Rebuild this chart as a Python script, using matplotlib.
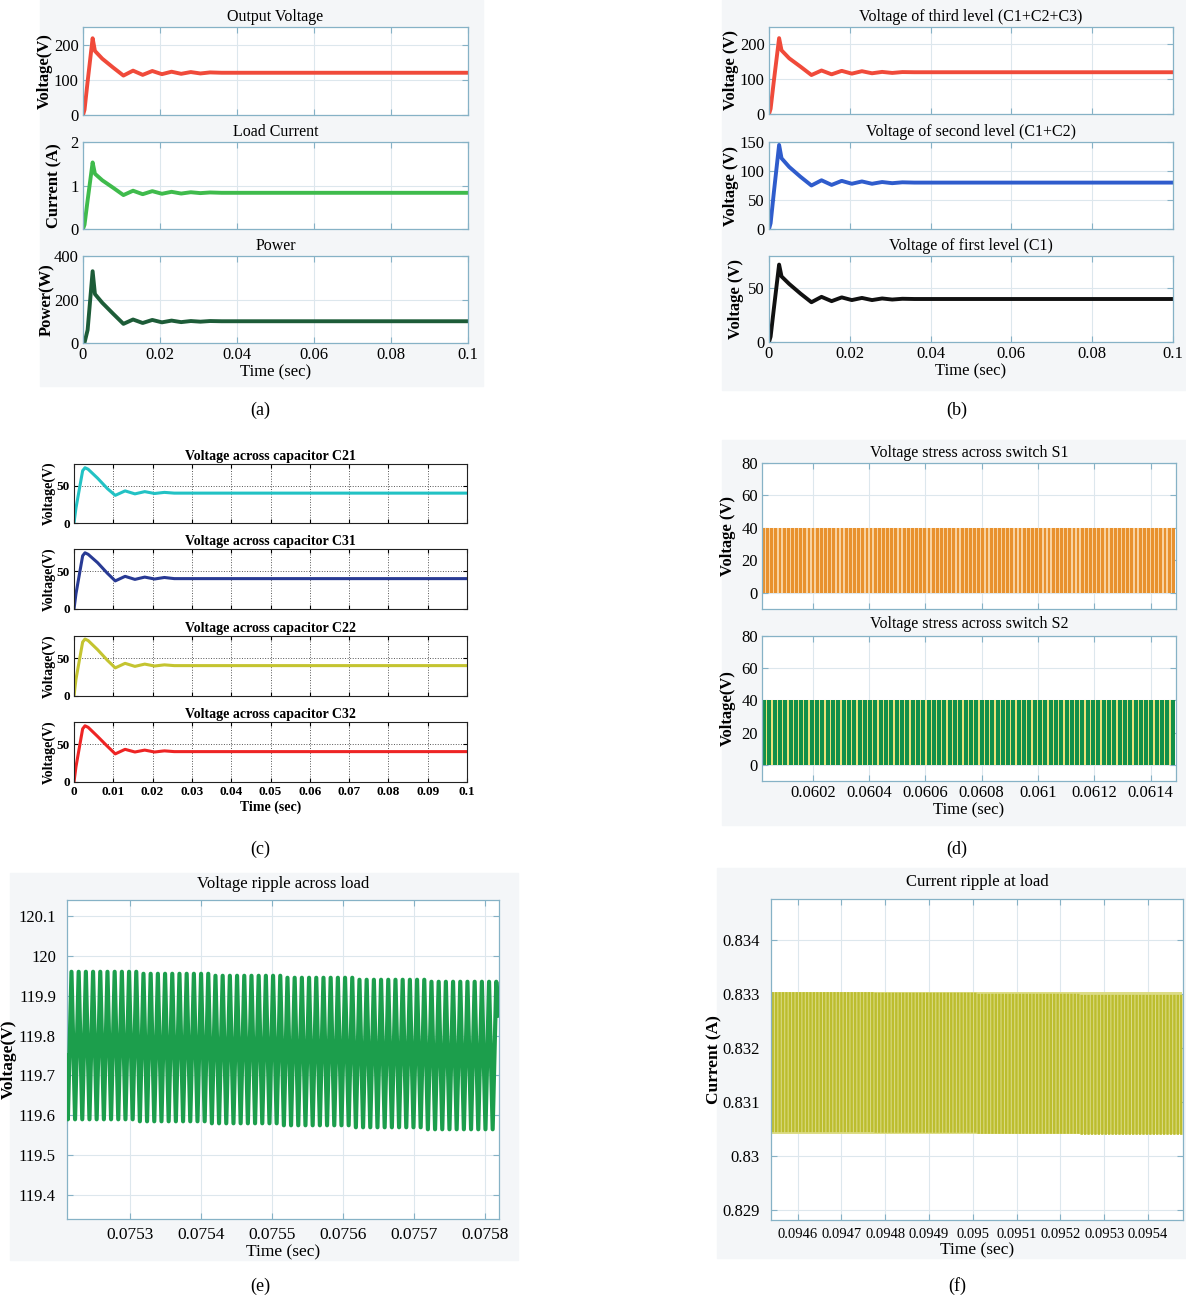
import numpy as np
import matplotlib.pyplot as plt
from matplotlib.patches import Rectangle

W, H = 1186, 1299
plt.rcParams['font.family'] = ['Liberation Serif', 'DejaVu Serif']

# ---------------- data ----------------
# transient knots (sec) for panels (a) and (b)
T_TR = [0, 0.0004, 0.0012, 0.0025, 0.0031, 0.005, 0.0078, 0.0105, 0.013, 0.0155,
        0.018, 0.0205, 0.023, 0.0255, 0.028, 0.0305, 0.033, 0.036, 0.1]
V_OUT = [0, 15, 95, 218, 182, 160, 135, 112, 126, 114, 125, 116, 123, 117, 122, 118, 121, 120, 120]
I_LOAD = [0, 0.1, 0.66, 1.53, 1.27, 1.12, 0.95, 0.78, 0.88, 0.8, 0.87, 0.81, 0.855, 0.815,
          0.845, 0.825, 0.84, 0.832, 0.832]
P_OUT = [0, 2, 60, 330, 225, 185, 135, 88, 108, 92, 106, 95, 103, 96, 101, 98, 101, 100, 100]
V_LVL3 = [0, 15, 95, 218, 183, 160, 136, 112, 125, 114, 124, 116, 123, 117, 121, 118, 120.5, 120, 120]
V_LVL2 = [0, 10, 63, 145, 122, 107, 90, 75, 84, 76, 83, 78, 82, 78, 81, 79, 80.5, 80, 80]
V_LVL1 = [0, 5, 31, 72, 61, 54, 45, 37, 42, 38, 41.5, 39, 41, 39, 40.5, 39.5, 40.2, 40, 40]

# capacitor voltages, panel (c)
T_CAP = [0, 0.0005, 0.0022, 0.0028, 0.0036, 0.006, 0.0085, 0.0105, 0.013, 0.0155,
         0.018, 0.0205, 0.023, 0.0255, 0.1]
V_C21 = [0, 20, 70, 74, 72, 60, 46, 37, 43, 39, 42, 39.5, 41, 40, 40]
V_C31 = [0, 20, 70, 74, 72, 61, 47, 37, 43, 39, 42, 39.5, 41.5, 40, 40]
V_C22 = [0, 22, 71, 75, 73, 61, 47, 37, 43, 39, 42, 39.5, 41, 40, 40]
V_C32 = [0, 20, 70, 74, 72, 60, 47, 37, 43, 39.5, 42, 39.5, 41, 40, 40]

# switch voltage stress, panel (d)
S_LOW = [0]
S_HIGH = [40]
S1_CYCLES = 100
S2_CYCLES = 78

# load voltage ripple, panel (e): one value per block of 10 cycles
E_HIGH = [119.96, 119.955, 119.95, 119.945, 119.94, 119.935]
E_LOW = [119.59, 119.585, 119.58, 119.575, 119.57, 119.565]
E_START, E_END = 119.75, 119.85

# load current ripple, panel (f): one value per block of 30 cycles
F_HIGH = [0.83305, 0.83304, 0.83302, 0.83300]
F_LOW = [0.83045, 0.83044, 0.83042, 0.83040]

X_A = [0, 0.02, 0.04, 0.06, 0.08, 0.1]
X_A_LBL = ['0', '0.02', '0.04', '0.06', '0.08', '0.1']
X_C = [0, 0.01, 0.02, 0.03, 0.04, 0.05, 0.06, 0.07, 0.08, 0.09, 0.1]
X_C_LBL = ['0', '0.01', '0.02', '0.03', '0.04', '0.05', '0.06', '0.07', '0.08', '0.09', '0.1']
X_D = [0.0602, 0.0604, 0.0606, 0.0608, 0.061, 0.0612, 0.0614]
X_D_LBL = ['0.0602', '0.0604', '0.0606', '0.0608', '0.061', '0.0612', '0.0614']
X_E = [0.0753, 0.0754, 0.0755, 0.0756, 0.0757, 0.0758]
X_E_LBL = ['0.0753', '0.0754', '0.0755', '0.0756', '0.0757', '0.0758']
Y_E = [119.4, 119.5, 119.6, 119.7, 119.8, 119.9, 120.0, 120.1]
Y_E_LBL = ['119.4', '119.5', '119.6', '119.7', '119.8', '119.9', '120', '120.1']
X_F = [0.0946, 0.0947, 0.0948, 0.0949, 0.095, 0.0951, 0.0952, 0.0953, 0.0954]
X_F_LBL = ['0.0946', '0.0947', '0.0948', '0.0949', '0.095', '0.0951', '0.0952', '0.0953', '0.0954']
Y_F = [0.829, 0.830, 0.831, 0.832, 0.833, 0.834]
Y_F_LBL = ['0.829', '0.83', '0.831', '0.832', '0.833', '0.834']

SPINE = '#86b2c6'
GRID = '#dde7ed'

fig = plt.figure(figsize=(W / 100, H / 100), dpi=100)


def box(l, t, r, b):
    return [l / W, 1 - b / H, (r - l) / W, (b - t) / H]


def panel_bg(l, t, r, b, color='#f4f6f8'):
    fig.patches.append(Rectangle((l / W, 1 - b / H), (r - l) / W, (b - t) / H,
                                 transform=fig.transFigure, color=color, zorder=-10))


def m_ax(rect, xlim, ylim, xt, xtl, yt, ytl, title, ylabel, ylab_x, xlabel=None,
         fs=11, ypad=3, xpad=3, xfs=None, yfs=None, tpad=4):
    ax = fig.add_axes(box(*rect))
    ax.set_xlim(*xlim)
    ax.set_ylim(*ylim)
    ax.set_xticks(xt)
    ax.set_yticks(yt)
    ax.set_yticklabels(ytl)
    if xlabel is None:
        ax.set_xticklabels([])
    else:
        ax.set_xticklabels(xtl, fontsize=xfs or fs + 1)
        ax.set_xlabel(xlabel, fontsize=fs + 1, labelpad=1)
    ax.grid(True, color=GRID, lw=0.8)
    ax.set_axisbelow(True)
    for s in ax.spines.values():
        s.set_color(SPINE)
        s.set_linewidth(0.9)
    ax.tick_params(axis='both', direction='in', top=True, right=True, length=4,
                   color=SPINE)
    ax.tick_params(axis='y', pad=ypad, labelsize=yfs or fs + 1)
    ax.tick_params(axis='x', pad=xpad)
    ax.set_title(title, fontsize=fs + 0.5, pad=tpad)
    ax.set_ylabel(ylabel, fontsize=fs + 1, fontweight='bold')
    l, r = rect[0], rect[2]
    ax.yaxis.set_label_coords((ylab_x - l) / (r - l), 0.5)
    return ax


def pulses(ax, x0, x1, lo_vals, hi_vals, per_block, duty, dark, light):
    # switching waveform: high parts dark over a light band
    n = len(hi_vals) * per_block
    edges = np.linspace(x0, x1, n + 1)
    hi = np.repeat(hi_vals, per_block)
    lo = np.repeat(lo_vals, per_block)
    t, y, base = [], [], []
    for k in range(n):
        a, b = edges[k], edges[k + 1]
        m = a + duty * (b - a)
        t += [a, a, m, m]
        y += [lo[k], hi[k], hi[k], lo[k]]
        base += [lo[k]] * 4
    ax.fill_between(t, min(lo_vals), max(hi_vals), color=light, lw=0, zorder=1)
    ax.fill_between(t, base, y, color=dark, lw=0, zorder=2)


# panel backgrounds
panel_bg(40, 0, 483, 386)
panel_bg(722, 0, 1186, 390)
panel_bg(722, 440, 1186, 825)
panel_bg(10, 873, 518, 1260)
panel_bg(717, 868, 1186, 1258)

# ---------------- (a) ----------------
ax = m_ax((83, 27, 468, 115), (0, 0.1), (0, 250), X_A, X_A_LBL, [0, 100, 200],
          ['0', '100', '200'], 'Output Voltage', 'Voltage(V)', 53)
ax.plot(T_TR, V_OUT, color='#f04a3a', lw=2.8)
ax = m_ax((83, 142, 468, 229), (0, 0.1), (0, 2), X_A, X_A_LBL, [0, 1, 2],
          ['0', '1', '2'], 'Load Current', 'Current (A)', 62)
ax.plot(T_TR, I_LOAD, color='#3fbb4c', lw=2.8)
ax = m_ax((83, 256, 468, 343), (0, 0.1), (0, 400), X_A, X_A_LBL, [0, 200, 400],
          ['0', '200', '400'], 'Power', 'Power(W)', 55, xlabel='Time (sec)')
ax.plot(T_TR, P_OUT, color='#1d5c38', lw=2.8)

# ---------------- (b) ----------------
ax = m_ax((769, 27, 1173, 114), (0, 0.1), (0, 250), X_A, X_A_LBL, [0, 100, 200],
          ['0', '100', '200'], 'Voltage of third level (C1+C2+C3)', 'Voltage (V)', 739)
ax.plot(T_TR, V_LVL3, color='#f04a3a', lw=2.8)
ax = m_ax((769, 142, 1173, 229), (0, 0.1), (0, 150), X_A, X_A_LBL, [0, 50, 100, 150],
          ['0', '50', '100', '150'], 'Voltage of second level (C1+C2)', 'Voltage (V)', 739)
ax.plot(T_TR, V_LVL2, color='#2f5ccc', lw=2.8)
ax = m_ax((769, 256, 1173, 342), (0, 0.1), (0, 80), X_A, X_A_LBL, [0, 50],
          ['0', '50'], 'Voltage of first level (C1)', 'Voltage (V)', 744, xlabel='Time (sec)')
ax.plot(T_TR, V_LVL1, color='#111111', lw=2.8)

# ---------------- (c) ----------------
cap_rows = [(464, 523, 'Voltage across capacitor C21', V_C21, '#22c2c4'),
            (549, 609, 'Voltage across capacitor C31', V_C31, '#283a94'),
            (636, 696, 'Voltage across capacitor C22', V_C22, '#c4c430'),
            (722, 782, 'Voltage across capacitor C32', V_C32, '#ee2424')]
for i, (top, bot, title, vals, col) in enumerate(cap_rows):
    ax = fig.add_axes(box(74, top, 467, bot))
    ax.plot(T_CAP, vals, color=col, lw=2.2)
    ax.set_xlim(0, 0.1)
    ax.set_ylim(0, 79)
    ax.set_xticks(X_C)
    ax.set_yticks([0, 50])
    ax.set_yticklabels(['0', '50'], fontweight='bold')
    if i == 3:
        ax.set_xticklabels(X_C_LBL, fontweight='bold')
        ax.set_xlabel('Time (sec)', fontsize=10, fontweight='bold', labelpad=2)
    else:
        ax.set_xticklabels([])
    ax.grid(True, color='#555555', ls=':', lw=0.7)
    for s in ax.spines.values():
        s.set_color('#222222')
        s.set_linewidth(0.8)
    ax.tick_params(direction='in', top=True, right=True, length=3, labelsize=9.5, pad=3)
    ax.set_title(title, fontsize=10, fontweight='bold', pad=3)
    ax.set_ylabel('Voltage(V)', fontsize=10, fontweight='bold')
    ax.yaxis.set_label_coords(-0.047, 0.5)

# ---------------- (d) ----------------
ax = m_ax((762, 463, 1176, 609), (0.06002, 0.06149), (-10, 80), X_D, X_D_LBL,
          [0, 20, 40, 60, 80], ['0', '20', '40', '60', '80'],
          'Voltage stress across switch S1', 'Voltage (V)', 736, tpad=4)
pulses(ax, 0.06002, 0.06149, S_LOW, S_HIGH, S1_CYCLES, 0.68, '#e8912e', '#f8d2a0')
ax = m_ax((762, 636, 1176, 781), (0.06002, 0.06149), (-10, 80), X_D, X_D_LBL,
          [0, 20, 40, 60, 80], ['0', '20', '40', '60', '80'],
          'Voltage stress across switch S2', 'Voltage(V)', 736, xlabel='Time (sec)', tpad=6)
pulses(ax, 0.06002, 0.06149, S_LOW, S_HIGH, S2_CYCLES, 0.75, '#12904a', '#ece27a')

# ---------------- (e) ----------------
ax = m_ax((67, 900, 499, 1219), (0.075211, 0.07582), (119.34, 120.14), X_E, X_E_LBL,
          Y_E, Y_E_LBL, 'Voltage ripple across load', 'Voltage(V)', 17, xlabel='Time (sec)',
          fs=11.5, ypad=8, xpad=6, yfs=12, tpad=9)
n_e = len(E_HIGH) * 10
edges = np.linspace(0.075211, 0.07582, n_e + 1)
hi = np.repeat(E_HIGH, 10)
lo = np.repeat(E_LOW, 10)
te = [edges[0]]
ve = [E_START]
for k in range(n_e):
    a, b = edges[k], edges[k + 1]
    te += [a + 0.12 * (b - a), a + 0.62 * (b - a)]
    ve += [lo[k], hi[k]]
te.append(edges[-1])
ve.append(E_END)
ax.plot(te, ve, color='#f0e27a', lw=0.8, zorder=2)
ax.plot(te, ve, color='#1c9e4c', lw=3.0, zorder=3)

# ---------------- (f) ----------------
ax = m_ax((771, 899, 1183, 1220), (0.094539, 0.09548), (0.82881, 0.83477), X_F, X_F_LBL,
          Y_F, Y_F_LBL, 'Current ripple at load', 'Current (A)', 722, xlabel='Time (sec)',
          fs=11.5, ypad=8, xpad=6, xfs=10.5, yfs=12, tpad=9)
pulses(ax, 0.094539, 0.09548, F_LOW, F_HIGH, 30, 0.7, '#bcbd2e', '#dcdc86')

# ---------------- captions ----------------
for label, x, y in [('(a)', 260, 410), ('(b)', 957, 410), ('(c)', 260, 849),
                    ('(d)', 957, 849), ('(e)', 260, 1286), ('(f)', 957, 1286)]:
    fig.text(x / W, 1 - y / H, label, ha='center', va='center', fontsize=13)

fig.savefig('out.png', dpi=100)
